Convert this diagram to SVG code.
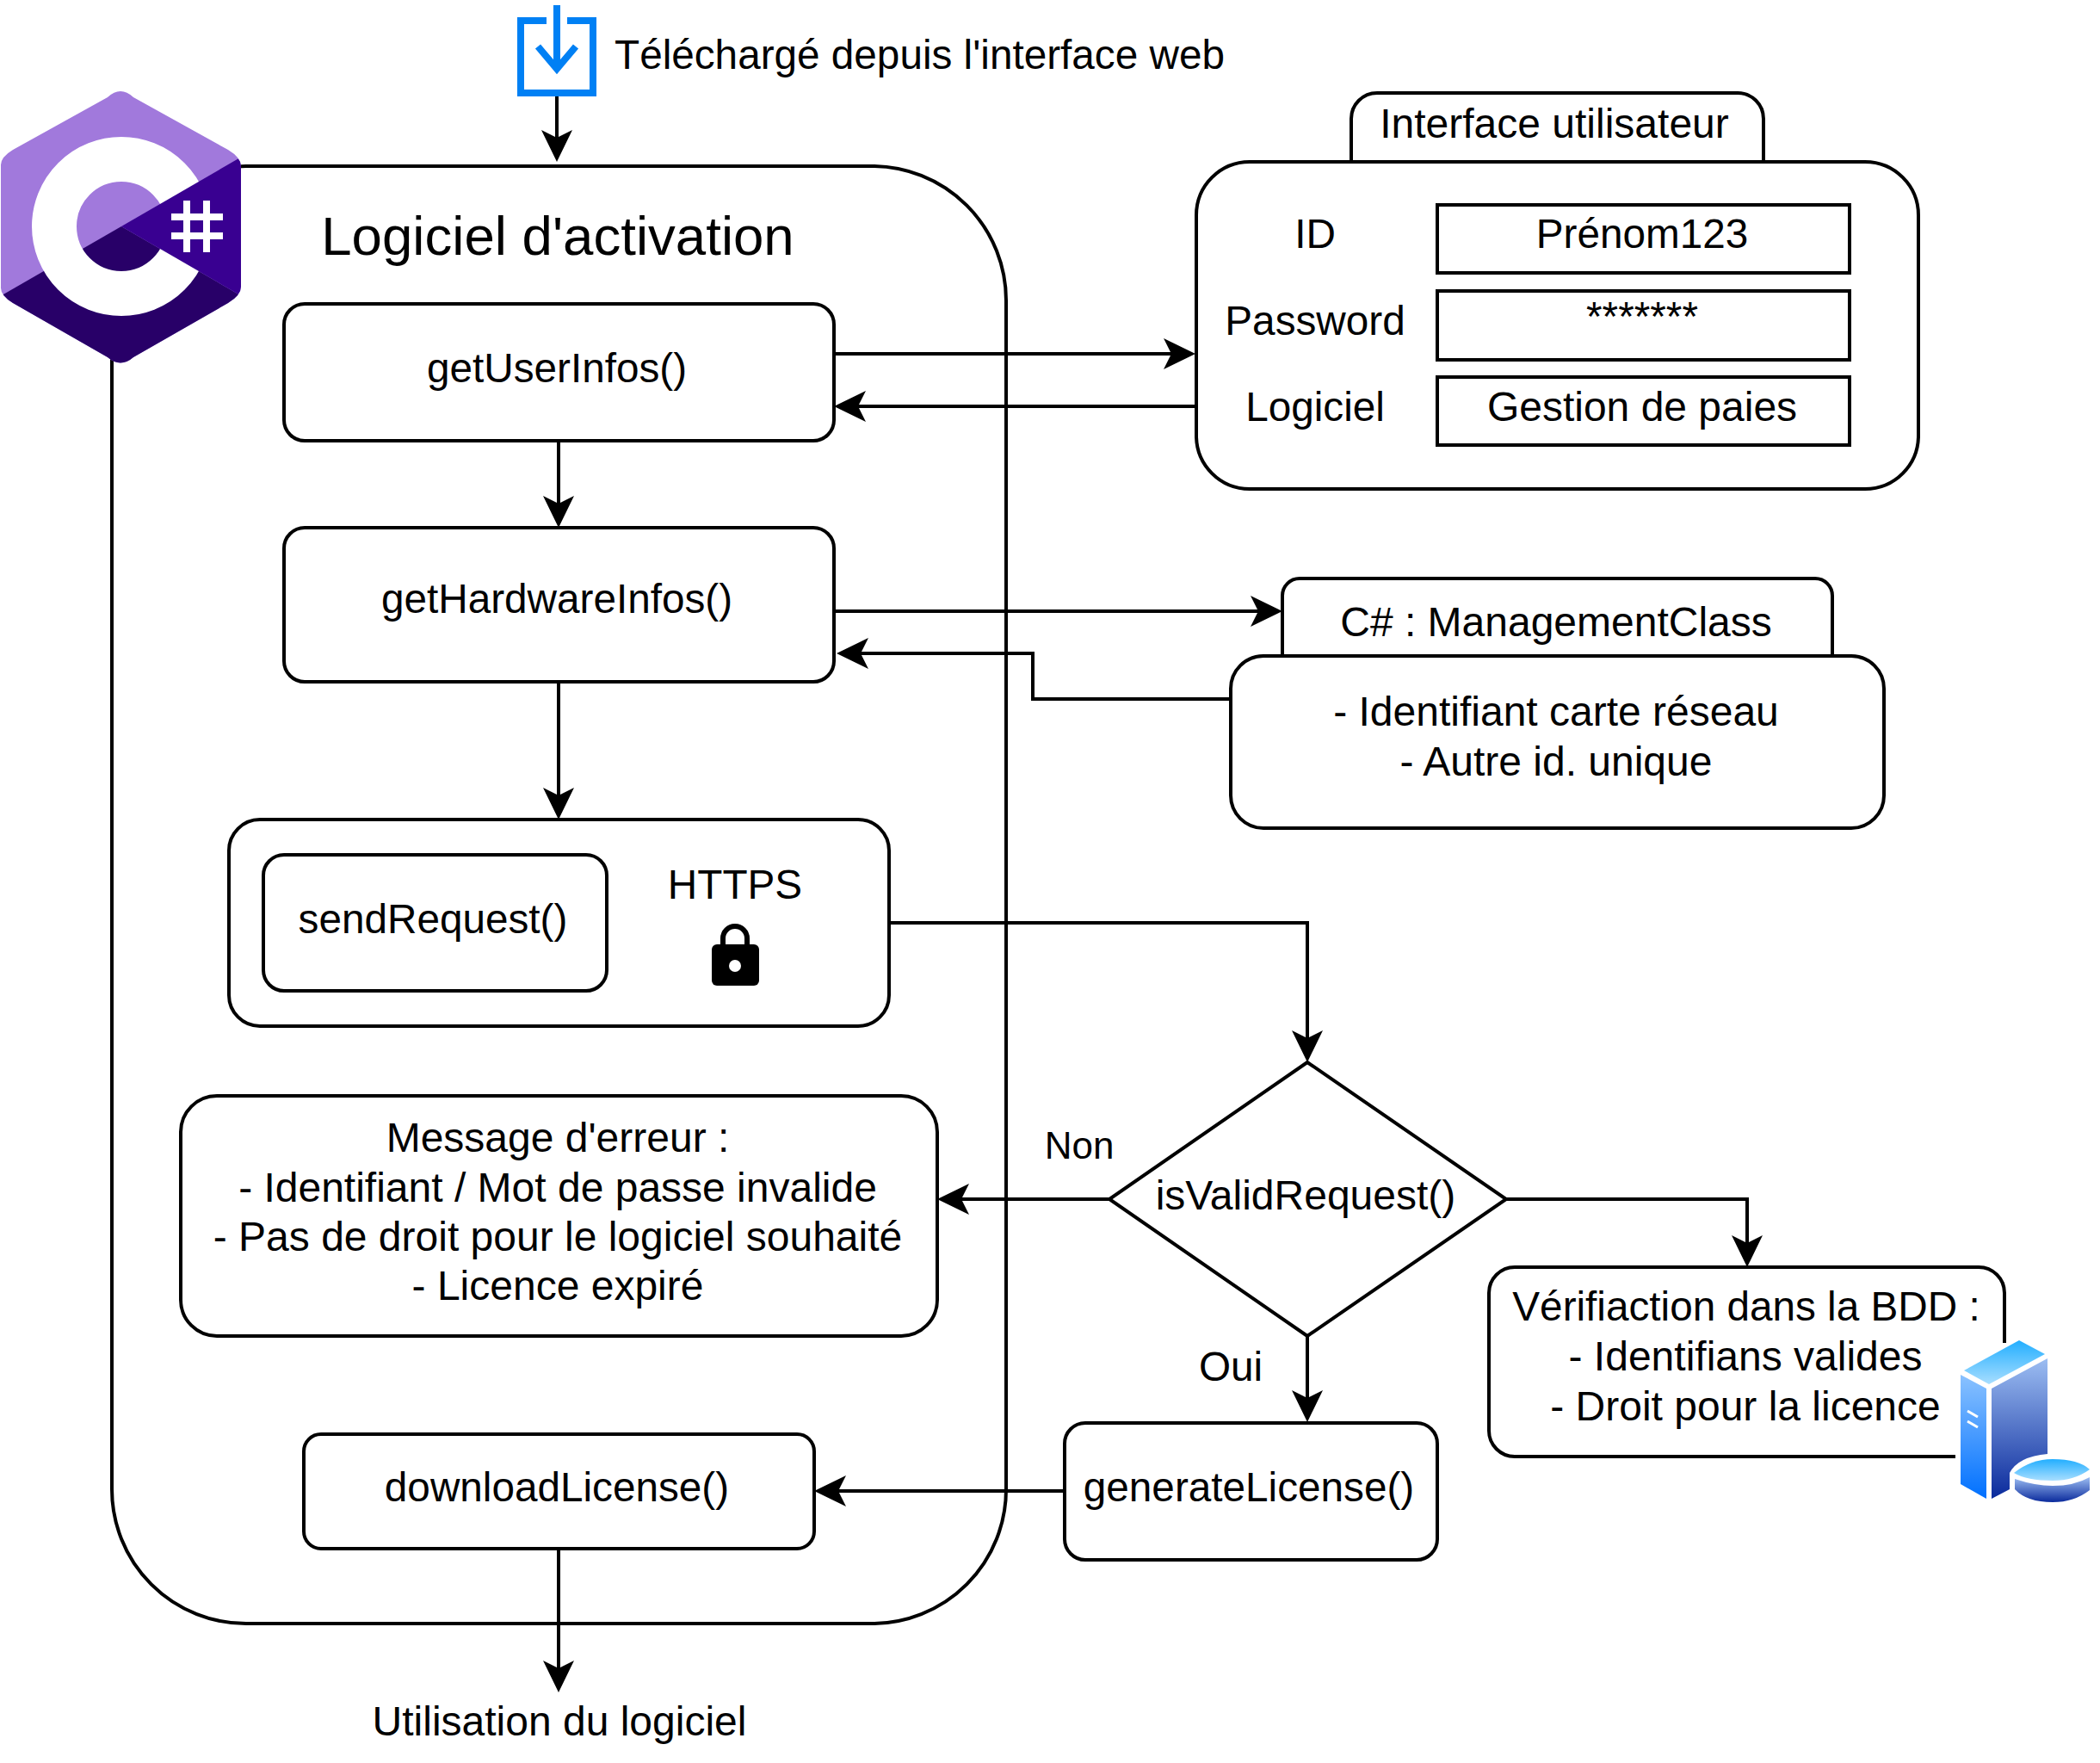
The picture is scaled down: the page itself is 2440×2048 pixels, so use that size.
<svg xmlns="http://www.w3.org/2000/svg" width="2440" height="2048" viewBox="0 0 2440 2048">
<style>
text{font-family:"Liberation Sans",Arial,sans-serif;font-size:47.7px;fill:#000;text-anchor:middle}
text.m{font-size:48px}
.b{fill:#fff;stroke:#000;stroke-width:4}
.c{fill:none;stroke:#000;stroke-width:4}
.a{marker-end:url(#arrow)}
</style>
<defs>
<marker id="arrow" markerUnits="userSpaceOnUse" markerWidth="40" markerHeight="40" refX="17" refY="20" orient="auto">
<path d="M37,20 L0,2 L9,20 L0,38 Z" fill="#000"/>
</marker>
<clipPath id="hex"><path d="M125,113 Q140,99 155,113 L265,174 Q280,183 280,193 L280,333 Q280,343 265,352 L155,415 Q140,428 125,415 L15,352 Q0,343 1,333 L1,193 Q0,183 15,174 Z"/></clipPath>
<linearGradient id="g1" x1="0" y1="0" x2="0" y2="1"><stop offset="0" stop-color="#22AEFF"/><stop offset="1" stop-color="#A8DEFF"/></linearGradient>
<linearGradient id="g2" x1="0" y1="0" x2="0" y2="1"><stop offset="0" stop-color="#8AC2FF"/><stop offset="1" stop-color="#0070FF"/></linearGradient>
<linearGradient id="g3" x1="0" y1="0" x2="0" y2="1"><stop offset="0" stop-color="#9CBDF2"/><stop offset="1" stop-color="#0A2A9C"/></linearGradient>
</defs>

<g id="main-container"><rect class="b" x="130" y="193" width="1039" height="1693" rx="156"/>
<text x="648" y="296" style="font-size:63.6px">Logiciel d'activation</text></g>

<g id="connectors">
<path class="c a" d="M647,112 V168"/>
<path class="c a" d="M969,411 H1369"/>
<path class="c a" d="M1389,472 H989"/>
<path class="c a" d="M649,512 V593"/>
<path class="c a" d="M969,710 H1470"/>
<path class="c a" d="M1430,812 H1200 V759 H992"/>
<path class="c a" d="M649,792 V932"/>
<path class="c a" d="M1033,1072 H1519 V1214"/>
<path class="c a" d="M1289,1393 H1109"/>
<path class="c a" d="M1750,1393 H2030 V1452"/>
<path class="c a" d="M1519,1552 V1632"/>
<path class="c a" d="M1237,1732 H966"/>
<path class="c a" d="M649,1799 V1946"/>
</g>

<g id="download-icon">
<path d="M635,24 H605 V108 H689 V24 H659 M647,6 V78 M625,54 L647,80 L669,54" fill="none" stroke="#0080F4" stroke-width="8"/>
<text x="714" y="80" style="text-anchor:start">Téléchargé depuis l'interface web</text>
</g>

<g id="csharp-logo">
<g clip-path="url(#hex)">
<rect x="0" y="100" width="285" height="330" fill="#A179DC"/>
<path d="M141,263 L300,355 L300,430 L-10,430 L-10,350 Z" fill="#280068"/>
<circle cx="141" cy="263" r="78" fill="none" stroke="#fff" stroke-width="52"/>
<path d="M141,263 L300,171 V355 Z" fill="#390091"/>
</g>
<path d="M199,252 H259 M199,274 H259 M217,233 V293 M240,233 V293" fill="none" stroke="#fff" stroke-width="8"/>
</g>

<g id="get-user-infos"><rect class="b" x="330" y="353" width="639" height="159" rx="24"/><text x="647" y="444">getUserInfos()</text></g>
<g id="get-hardware-infos"><rect class="b" x="330" y="613" width="639" height="179" rx="24"/><text x="647" y="712">getHardwareInfos()</text></g>
<g id="send-request-box"><rect class="b" x="266" y="952" width="767" height="240" rx="36"/><text x="854" y="1044">HTTPS</text>
<path d="M840,1098 V1090 A14,14 0 0 1 868,1090 V1098" fill="none" stroke="#000" stroke-width="6"/>
<rect x="827" y="1097" width="55" height="48" rx="6" fill="#000"/><circle cx="854" cy="1122" r="7" fill="#fff"/></g>
<g id="send-request"><rect class="b" x="306" y="993" width="399" height="158" rx="24"/><text x="503" y="1084">sendRequest()</text></g>
<g id="error-message"><rect class="b" x="210" y="1273" width="879" height="279" rx="42"/>
<text class="m" x="648" y="1338">Message d'erreur :</text><text class="m" x="648" y="1396">- Identifiant / Mot de passe invalide</text><text class="m" x="648" y="1453">- Pas de droit pour le logiciel souhaité</text><text class="m" x="648" y="1510">- Licence expiré</text></g>
<g id="download-license"><rect class="b" x="353" y="1666" width="593" height="133" rx="20"/><text x="647" y="1744">downloadLicense()</text></g>

<g id="user-interface">
<path class="b" d="M1570,188 V138 A30,30 0 0 1 1600,108 H2019 A30,30 0 0 1 2049,138 V188 Z"/>
<rect class="b" x="1390" y="188" width="839" height="380" rx="62"/>
<text class="m" x="1806" y="160">Interface utilisateur</text>
<text x="1528" y="288">ID</text><text x="1528" y="389">Password</text><text x="1528" y="489">Logiciel</text>
<rect class="b" x="1670" y="238" width="479" height="79"/><text x="1908" y="288">Prénom123</text>
<rect class="b" x="1670" y="338" width="479" height="80"/><text x="1908" y="384">*******</text>
<rect class="b" x="1670" y="438" width="479" height="79"/><text class="m" x="1908" y="489">Gestion de paies</text>
</g>

<g id="management-class">
<path class="b" d="M1490,762 V692 A20,20 0 0 1 1510,672 H2109 A20,20 0 0 1 2129,692 V762 Z"/>
<rect class="b" x="1430" y="762" width="759" height="200" rx="38"/>
<text class="m" x="1808" y="739">C# : ManagementClass</text>
<text class="m" x="1808" y="843">- Identifiant carte réseau</text><text class="m" x="1808" y="901">- Autre id. unique</text>
</g>

<g id="is-valid-request"><path class="b" d="M1519,1234 L1750,1393 L1519,1552 L1289,1393 Z"/><text class="m" x="1517" y="1405">isValidRequest()</text></g>
<g id="label-non"><text x="1254" y="1346" style="font-size:44px">Non</text></g>
<g id="label-oui"><text x="1430" y="1604">Oui</text></g>
<g id="generate-license"><rect class="b" x="1237" y="1653" width="433" height="159" rx="24"/><text x="1451" y="1744">generateLicense()</text></g>

<g id="bdd-check">
<path class="c" d="M2329,1560 V1502 A30,30 0 0 0 2299,1472 H1760 A30,30 0 0 0 1730,1502 V1662 A30,30 0 0 0 1760,1692 H2272"/>
<text x="2029" y="1534">Vérifiaction dans la BDD :</text><text class="m" x="2028" y="1592">- Identifians valides</text><text class="m" x="2028" y="1650">- Droit pour la licence</text>
<path d="M2282,1592 L2346,1557 L2376,1573 L2311,1608 Z" fill="url(#g1)"/>
<path d="M2278,1597 L2308,1613 V1741 L2278,1724 Z" fill="url(#g2)"/>
<path d="M2314,1613 L2379,1578 V1689 Q2345,1692 2335,1711 V1730 L2314,1741 Z" fill="url(#g3)"/>
<path d="M2286,1639 L2298,1646 M2286,1651 L2298,1658" stroke="#fff" stroke-width="3" fill="none"/>
<path d="M2340,1711 Q2360,1695 2385,1695 Q2415,1695 2428,1707 Q2410,1720 2385,1720 Q2355,1720 2340,1711 Z" fill="url(#g1)"/>
<path d="M2341,1718 Q2365,1726 2385,1726 Q2410,1726 2428,1716 V1731 Q2410,1745 2385,1745 Q2355,1745 2341,1730 Z" fill="url(#g3)"/>
</g>

<g id="label-usage"><text class="m" x="650" y="2016">Utilisation du logiciel</text></g>
</svg>
